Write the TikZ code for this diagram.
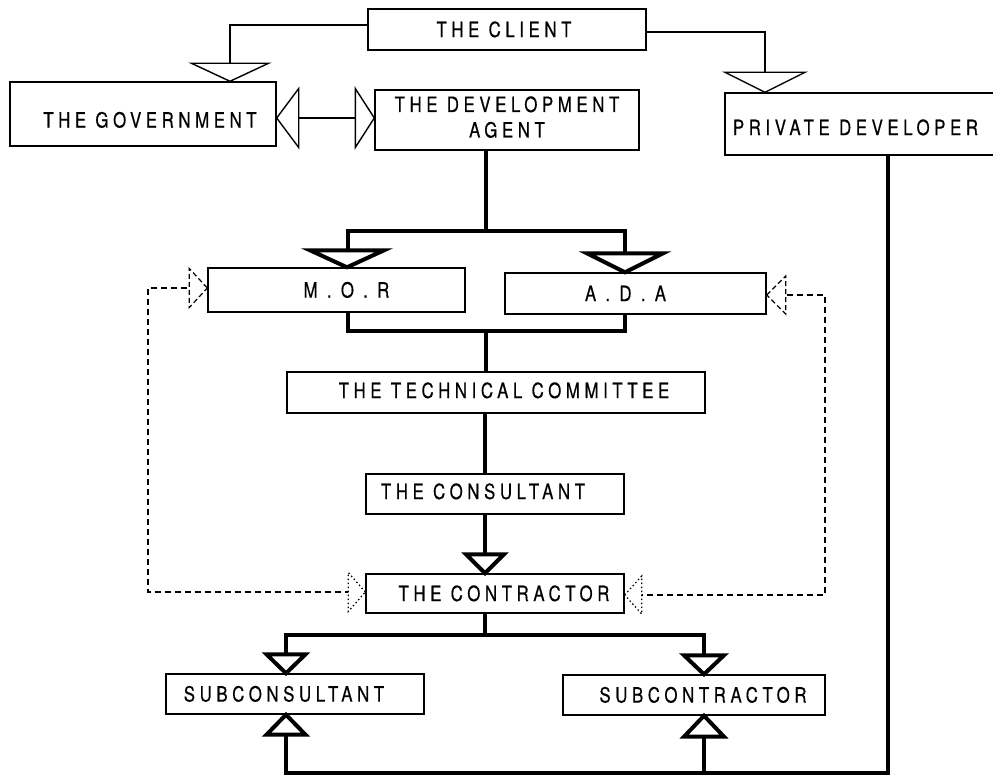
\documentclass[tikz,border=0pt]{standalone}
\usepackage{fontspec}
\newfontfamily\lab[FakeStretch=0.8,LetterSpace=22,FakeBold=0.5]{TeX Gyre Heros}
\usetikzlibrary{calc}
\newcommand\tridn[4]{\filldraw[fill=white,#4] (#1) -- ++(-#2,-#3) -- ++(2*#2,0) -- cycle;}
\newcommand\triup[4]{\filldraw[fill=white,#4] (#1) -- ++(-#2,#3) -- ++(2*#2,0) -- cycle;}
\newcommand\trilf[4]{\filldraw[fill=white,#4] (#1) -- ++(#3,-#2) -- ++(0,2*#2) -- cycle;}
\newcommand\trirt[4]{\filldraw[fill=white,#4] (#1) -- ++(-#3,-#2) -- ++(0,2*#2) -- cycle;}
\begin{document}
\begin{tikzpicture}[x=1pt,y=-1pt,
  box/.style={draw, line width=1.4pt, rectangle, inner sep=0pt,
    font=\lab\fontsize{21}{25.5}\selectfont, align=center,
    text height=15.1pt, text depth=0pt},
  thinline/.style={line width=1.4pt},
  heavy/.style={line width=4pt},
  heavytri/.style={line width=4pt},
  dashline/.style={line width=1.2pt, dash pattern=on 6pt off 4pt},
  dashtri/.style={line width=1.2pt, dash pattern=on 5pt off 3pt},
  dottri/.style={line width=1.2pt, dash pattern=on 1.5pt off 2.5pt}]
\useasboundingbox (0,0) rectangle (993,775);
\fill[white] (0,0) rectangle (993,775);

% boxes
\node[box, minimum width=278pt, minimum height=41pt] (client) at (507,29.5) {THE CLIENT\hspace*{6pt}};
\node[box, minimum width=266pt, minimum height=64pt, text height=27.1pt] (gov) at (143,114) {\hspace*{14pt}THE GOVERNMENT};
\node[box, minimum width=264pt, minimum height=60pt, text height=40.6pt, text depth=5.6pt] (dev) at (507,120) {THE DEVELOPMENT\\AGENT};
\node[box, minimum width=275pt, minimum height=62pt, text height=22.1pt] (priv) at (862.5,124) {PRIVATE DEVELOPER\hspace*{14pt}};
\node[box, minimum width=257pt, minimum height=44pt] (mor) at (336.5,290) {\hspace*{20pt}M . O . R};
\node[box, minimum width=261pt, minimum height=41pt] (ada) at (635.5,293.5) {A . D . A\hspace*{20pt}};
\node[box, minimum width=418pt, minimum height=41pt, text depth=4pt] (tech) at (496,392.5) {\hspace*{16pt}THE TECHNICAL COMMITTEE};
\node[box, minimum width=258pt, minimum height=40pt, text depth=5pt] (cons) at (495,494) {THE CONSULTANT\hspace*{24pt}};
\node[box, minimum width=258pt, minimum height=39pt] (contr) at (495,593.5) {\hspace*{18pt}THE CONTRACTOR};
\node[box, minimum width=258pt, minimum height=40pt] (subcons) at (295,694) {SUBCONSULTANT\hspace*{22pt}};
\node[box, minimum width=262pt, minimum height=40pt] (subcontr) at (694,695) {\hspace*{18pt}SUBCONTRACTOR};

% client links
\draw[thinline] (client.west |- 0,25) -| (gov.north -| 230,0);
\tridn{gov.north -| 230,0}{38.5}{18}{thinline}
\draw[thinline] (client.east |- 0,32) -| (priv.north -| 765,0);
\tridn{priv.north -| 765,0}{40}{20}{thinline}

% government <-> development agent
\draw[thinline] (gov.east |- 0,118) -- (dev.west |- 0,118);
\trilf{gov.east |- 0,118}{29.5}{22}{thinline}
\trirt{dev.west |- 0,118}{29.5}{19}{thinline}

% development agent -> MOR, ADA
\draw[heavy] (dev.south -| 486,0) -- (486,231);
\draw[heavy] (mor.north -| 348,0) -- (348,231) -- (625,231) -- (ada.north -| 625,0);
\tridn{mor.north -| 347,0}{37}{17}{heavytri}
\tridn{ada.north -| 625,0}{38}{19}{heavytri}

% MOR, ADA -> technical committee
\draw[heavy] (mor.south -| 348,0) -- (348,331) -- (625,331) -- (ada.south -| 625,0);
\draw[heavy] (486,331) -- (tech.north -| 486,0);

% technical committee -> consultant -> contractor
\draw[heavy] (tech.south -| 485,0) -- (cons.north -| 485,0);
\draw[heavy] (cons.south -| 485,0) -- (contr.north -| 485,0);
\tridn{contr.north -| 485,0}{19}{19}{heavytri}

% contractor -> subconsultant, subcontractor
\draw[heavy] (contr.south -| 485,0) -- (485,635);
\draw[heavy] (subcons.north -| 286,0) -- (286,635) -- (704,635) -- (subcontr.north -| 704,0);
\tridn{subcons.north -| 286,0}{19.5}{19}{heavytri}
\tridn{subcontr.north -| 704,0}{20}{19}{heavytri}

% private developer -> subconsultant, subcontractor
\draw[heavy] (priv.south -| 888,0) -- (888,773) -- (286,773) -- (subcons.south -| 286,0);
\draw[heavy] (704,773) -- (subcontr.south -| 704,0);
\triup{subcons.south -| 286,0}{19.5}{20}{heavytri}
\triup{subcontr.south -| 704,0}{20}{21}{heavytri}

% dashed links
\draw[dashline] (mor.west |- 0,288) -- (148,288) -- (148,592) -- (contr.west |- 0,592);
\trirt{mor.west |- 0,288}{19.5}{18}{dashtri}
\trirt{contr.west |- 0,592}{19.5}{17}{dottri}
\draw[dashline] (ada.east |- 0,295) -- (825,295) -- (825,595) -- (contr.east |- 0,595);
\trilf{ada.east |- 0,295}{19}{19}{dashtri}
\trilf{contr.east |- 0,595}{19}{17}{dottri}
\end{tikzpicture}
\end{document}
